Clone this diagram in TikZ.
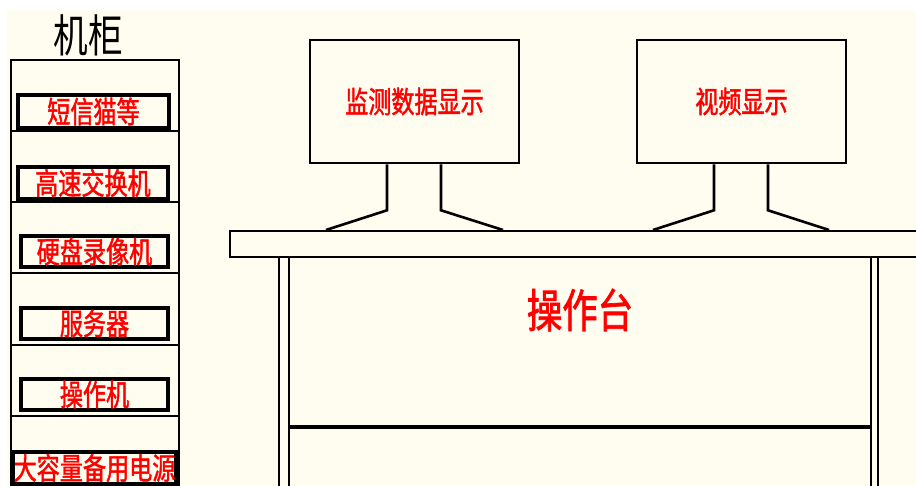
\documentclass[tikz,border=0pt]{standalone}
\usepackage{fontspec}
\newfontfamily\cjk[FakeStretch=0.77]{Noto Sans CJK SC}
\newfontfamily\cjkb[FakeStretch=0.77,FakeBold=1.5]{Noto Sans CJK SC}
\usetikzlibrary{calc}
\definecolor{cream}{HTML}{FFFCF0}
\tikzset{
  slot/.style={draw=black, line width=3.2pt, inner sep=0pt, text=red,
    font=\cjkb\fontsize{30}{30}\selectfont},
  screen/.style={draw=black, line width=2.6pt, inner sep=0pt, text=red,
    minimum width=209pt, minimum height=123pt, font=\cjkb\fontsize{30}{30}\selectfont},
  ln/.style={draw=black, line width=2.6pt},
  bigred/.style={text=red, inner sep=0pt, font=\cjkb\fontsize{46}{46}\selectfont},
}
\begin{document}
\begin{tikzpicture}[x=1pt,y=-1pt]
\useasboundingbox (0,0) rectangle (916,486);
\begin{scope}
\clip (0,0) rectangle (916,486);
\fill[cream] (7,10) rectangle (920,490);
% cabinet
\node[inner sep=0pt, font=\cjk\fontsize{45}{45}\selectfont] (title) at (88.5,35) {机柜};
\draw[ln] (11,495) -- (11,60) -- (179,60) -- (179,495);
\foreach \y in {131,202,273,345,416} \draw[ln] (11,\y) -- (179,\y);
\node[slot, minimum width=151pt, minimum height=33pt] (s1) at (93.5,111.5) {短信猫等};
\node[slot, minimum width=150pt, minimum height=32pt] (s2) at (93,183) {高速交换机};
\node[slot, minimum width=147pt, minimum height=31pt] (s3) at (94.5,251.5) {硬盘录像机};
\node[slot, minimum width=147pt, minimum height=31pt] (s4) at (94.5,323.5) {服务器};
\node[slot, minimum width=147pt, minimum height=31pt] (s5) at (94.5,394.5) {操作机};
\node[slot, minimum width=163pt, minimum height=32pt] (s6) at (94.5,468) {大容量备用电源};
% monitors
\node[screen] (m1) at (414.5,101.5) {监测数据显示};
\node[screen] (m2) at (741.5,101.5) {视频显示};
\draw[ln] ($(m1.south)+(-27.5,0)$) -- ++(0,46) -- (326,230);
\draw[ln] ($(m1.south)+(26.5,0)$) -- ++(0,46) -- (503,230);
\draw[ln] ($(m2.south)+(-27.5,0)$) -- ++(0,46) -- (653,230);
\draw[ln] ($(m2.south)+(26.5,0)$) -- ++(0,46) -- (829,230);
% desk
\draw[ln] (930,231) -- (230,231) -- (230,257) -- (930,257);
\foreach \x in {279,289,871,878} \draw[ln] (\x,257) -- (\x,495);
\draw[ln, line width=3.2pt] (289,427) -- (871,427);
\node[bigred] (desk) at (580,310) {操作台};
\end{scope}
\end{tikzpicture}
\end{document}
